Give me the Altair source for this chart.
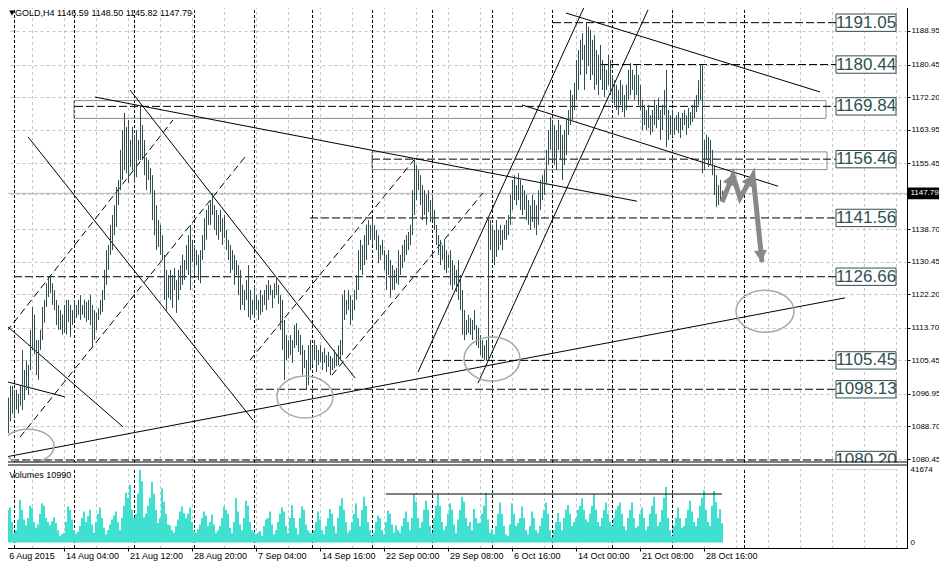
import altair as alt
import pandas as pd

# ---------------- data ----------------
highs = [
    1092, 1090, 1088, 1097, 1096, 1099, 1099, 1098, 1098, 1097,
    1099, 1108.1, 1103, 1105.5, 1104.3, 1113.2, 1119, 1117, 1110.6, 1110.6,
    1113.2, 1119, 1120.8, 1125, 1126.6, 1126.7, 1125, 1123.3, 1120.8, 1119.5,
    1118.2, 1117, 1119.5, 1120.8, 1120.8, 1119.5, 1118.2, 1120.8, 1119.5, 1120.8,
    1122, 1119.5, 1120.8, 1120.3, 1120.8, 1122, 1119.5, 1118.2, 1117.5, 1118.7,
    1120.8, 1123.3, 1128.4, 1133.4, 1134.7, 1139.8, 1142.3, 1144.8, 1149.4, 1151.2,
    1158.8, 1163.8, 1168.2, 1164.6, 1166.4, 1161.3, 1164.6, 1162.6, 1163.8, 1161.3,
    1169.9, 1165.1, 1161.3, 1156.9, 1156.2, 1154.2, 1152.4, 1148.6, 1144.8, 1141,
    1139.8, 1137.2, 1132.2, 1128.4, 1127.1, 1128.4, 1127.1, 1128.9, 1125.8, 1128.4,
    1129.6, 1132.2, 1130.9, 1134.7, 1137.2, 1139.8, 1136, 1134.7, 1133.4, 1132.2,
    1133.4, 1137.2, 1141.5, 1143.6, 1144.8, 1146.1, 1147.9, 1144.8, 1143.6, 1142.3,
    1143.6, 1141.5, 1142.3, 1138.5, 1136, 1134.7, 1133.4, 1132.2, 1130.9, 1129.6,
    1128.4, 1124.6, 1123.3, 1125.8, 1129.6, 1123.3, 1120.8, 1124.6, 1122, 1120.8,
    1123.3, 1122, 1123.3, 1124.6, 1125.8, 1124.6, 1123.3, 1125, 1126.3, 1124.6,
    1122, 1120.8, 1115.7, 1111.9, 1110.6, 1111.9, 1110.6, 1114.4, 1114.9, 1113.2,
    1111.9, 1109.3, 1108.1, 1105.5, 1109.3, 1110.6, 1108.8, 1110.6, 1109.3, 1108.1,
    1109.3, 1107.6, 1108.6, 1106.8, 1107.6, 1106.6, 1106, 1108.1, 1106.8, 1109.3,
    1110.6, 1122, 1123.3, 1120.8, 1123.3, 1122, 1120.8, 1123.3, 1127.1, 1133.4,
    1136, 1134.7, 1137.2, 1139.8, 1141, 1139.8, 1141.6, 1139.8, 1138.5, 1137.2,
    1134.7, 1136, 1133.4, 1132.2, 1133.4, 1130.9, 1129.6, 1128.4, 1128.9, 1133.4,
    1132.2, 1134.7, 1136, 1137.2, 1138, 1139.8, 1148.6, 1156.5, 1154.9, 1153.7,
    1152.4, 1149.9, 1148.6, 1147.4, 1148.6, 1146.1, 1147.4, 1143.6, 1139.8, 1137.2,
    1136, 1134.7, 1136, 1133.4, 1132.2, 1133.4, 1130.9, 1129.6, 1128.4, 1130.9,
    1127.1, 1123.3, 1118.2, 1115.7, 1117, 1116.2, 1115.7, 1118.2, 1114.4, 1113.7,
    1111.9, 1110.6, 1109.3, 1110.6, 1141.8, 1141, 1139.8, 1138.5, 1141, 1138.5,
    1139.8, 1138.5, 1139.8, 1141, 1142.3, 1147.4, 1151.2, 1152.4, 1149.9, 1152.9,
    1151.2, 1149.9, 1148.6, 1147.4, 1146.1, 1144.8, 1147.4, 1146.1, 1144.8, 1148.6,
    1151.2, 1152.4, 1153.7, 1158.8, 1163.8, 1167.1, 1166.4, 1165.1, 1163.8, 1166.4,
    1165.1, 1162.6, 1163.8, 1166.4, 1168.9, 1174, 1172.7, 1175.8, 1181.6, 1184.1,
    1186.7, 1188.4, 1185.4, 1191.05, 1190, 1189.2, 1186.7, 1187.9, 1184.1, 1182.9,
    1185.4, 1181.6, 1180.3, 1179.1, 1182.9, 1181.6, 1177.8, 1176.5, 1175.3, 1174,
    1176.5, 1175.3, 1172.7, 1175.3, 1179.1, 1180.8, 1179.1, 1177.8, 1180.3, 1177.8,
    1175.3, 1171.5, 1170.2, 1168.9, 1170.2, 1167.6, 1168.9, 1171.5, 1170.2, 1172,
    1168.9, 1170.2, 1174, 1179.1, 1168.9, 1167.6, 1168.9, 1166.9, 1167.6, 1168.4,
    1166.9, 1168.2, 1168.9, 1167.6, 1169.4, 1168.4, 1170.2, 1171.5, 1172.7, 1176.5,
    1180.44, 1180.2, 1161.3, 1162.6, 1162.1, 1161.3, 1158.8, 1155, 1152.4, 1149.9, 1151.2, 1148.5,
]
lows = [
    1085, 1083, 1080.2, 1081, 1087, 1090, 1092, 1091, 1093, 1092,
    1094, 1092.9, 1095.4, 1097.9, 1096.7, 1103, 1108.1, 1107, 1101.7, 1100.5,
    1108.1, 1110.6, 1115, 1119, 1121.5, 1122.5, 1119.5, 1118.2, 1114.4, 1113.2,
    1113.2, 1112, 1112.4, 1112, 1115.2, 1111.4, 1114.4, 1115.7, 1116.2, 1117,
    1115.7, 1117, 1116.2, 1115.2, 1115.7, 1114.4, 1108.8, 1110.6, 1113.2, 1115.7,
    1117, 1117.7, 1120.8, 1124.6, 1128.4, 1132.2, 1133.4, 1137.2, 1139.3, 1144.8,
    1148.6, 1151.2, 1153.7, 1152.9, 1150.4, 1154.5, 1153.7, 1150.4, 1151.9, 1156.2,
    1156.2, 1156.2, 1152.4, 1148.6, 1151.2, 1147.9, 1141, 1137.2, 1133.4, 1134.2,
    1132.2, 1130.9, 1120.8, 1118.2, 1121.3, 1120.8, 1118.7, 1123.3, 1117.5, 1120.8,
    1123.3, 1124.6, 1125.8, 1128.4, 1127.1, 1123.3, 1130.4, 1127.1, 1129.6, 1125.8,
    1125, 1130.9, 1133.4, 1136, 1139.8, 1139.8, 1142.3, 1138.5, 1137.2, 1136,
    1138, 1134.7, 1136.5, 1133.4, 1130.9, 1127.6, 1128.4, 1124.6, 1127.1, 1122,
    1118.2, 1119.5, 1118.2, 1120.8, 1116.4, 1115.7, 1117, 1116.2, 1118.2, 1115.7,
    1117, 1117.7, 1119.5, 1118.2, 1120.8, 1122, 1118.7, 1121.2, 1122, 1119.8,
    1113.2, 1108.1, 1100.5, 1105.5, 1106, 1106.8, 1104.8, 1108.6, 1109.3, 1107.6,
    1106.8, 1101.7, 1103.5, 1098.13, 1099.2, 1103, 1104.3, 1105.5, 1102.5, 1104.3,
    1105, 1103, 1104.8, 1102.5, 1103.8, 1101.7, 1103, 1103.5, 1104, 1104.3,
    1105.5, 1106.8, 1115.7, 1117, 1118.2, 1114.4, 1115.7, 1118.2, 1120.8, 1123.3,
    1128.4, 1127.1, 1129.6, 1130.9, 1134.7, 1136, 1134.7, 1136, 1133.4, 1130.1,
    1130.9, 1132.2, 1128.4, 1123.3, 1127.1, 1121.3, 1123.3, 1123.3, 1125, 1124.6,
    1127.1, 1128.9, 1130.4, 1132.2, 1133.4, 1134.7, 1137.2, 1142.3, 1146.1, 1148.6,
    1144.8, 1141, 1142.3, 1139.8, 1143.1, 1140.5, 1141, 1138.5, 1134.7, 1132.2,
    1129.6, 1130.9, 1128.4, 1127.6, 1128.9, 1124.6, 1123.3, 1124.6, 1122.8, 1120.8,
    1118.2, 1111.9, 1110.6, 1111.9, 1112.4, 1111.9, 1110.6, 1113.2, 1109.3, 1108.6,
    1106.8, 1106, 1105.6, 1105.45, 1106, 1133.4, 1130.9, 1129.6, 1131.7, 1133.4,
    1134.7, 1133.4, 1136, 1136, 1137.2, 1139.8, 1143.6, 1146.1, 1144.8, 1146.1,
    1143.6, 1142.3, 1143.6, 1141, 1139.8, 1138.5, 1140.5, 1139, 1137.2, 1139.8,
    1143.6, 1146.1, 1147.4, 1149.9, 1155, 1158.8, 1156.2, 1155, 1153.7, 1158.8,
    1156.2, 1151.2, 1155, 1157.5, 1162.6, 1165.1, 1166.4, 1168.9, 1171.5, 1174,
    1177.8, 1181.6, 1174, 1178, 1180, 1176.5, 1177.8, 1174, 1175.3, 1172.7,
    1176.5, 1174, 1172.2, 1174, 1175.3, 1172.7, 1171.5, 1170.2, 1168.9, 1167.6,
    1170.2, 1168.4, 1167.1, 1168.9, 1171.5, 1172.7, 1174, 1171.5, 1172.7, 1170.2,
    1168.9, 1163.8, 1165.1, 1163.8, 1164.3, 1162.6, 1163.3, 1165.1, 1164.3, 1166.4,
    1161.3, 1163.8, 1167.6, 1159.5, 1161.3, 1162.6, 1162.1, 1162.6, 1163.8, 1163.1,
    1161.8, 1163.8, 1165.1, 1162.6, 1164.3, 1165.1, 1165.9, 1166.9, 1168.4, 1170.2,
    1171.5, 1152.9, 1153.7, 1156.2, 1154.5, 1155, 1152.4, 1147.4, 1144.3, 1144.8, 1146.1, 1145.82,
]
volumes = [
    9400, 14000, 16400, 22900, 18700, 20100, 11700, 5100, 7000, 13100,
    24300, 18700, 13100, 9800, 14000, 21100, 19700, 11700, 8400, 10300,
    16400, 22500, 21100, 14000, 11700, 9800, 12200, 14500, 11200, 7000,
    3700, 4700, 5600, 11700, 20600, 18700, 13100, 7000, 5100, 6100,
    9400, 14000, 17800, 11700, 15000, 18700, 10300, 5600, 11700, 16400,
    20100, 14000, 8400, 4700, 7000, 10300, 13100, 15400, 17800, 11700,
    7000, 14000, 21100, 28500, 25700, 33200, 18700, 14000, 16400, 28100,
    41674, 35100, 14500, 16400, 21100, 25700, 34600, 28100, 18700, 11200,
    14000, 30900, 23400, 16400, 10300, 9800, 7000, 5600, 9400, 13100,
    17800, 20600, 16800, 14000, 16400, 20100, 11700, 6600, 5600, 7500,
    10300, 14000, 17800, 15400, 9400, 11700, 15900, 10300, 5600, 7000,
    9400, 14000, 20600, 18700, 16400, 8400, 5600, 11700, 25300, 17800,
    10300, 7000, 14000, 23900, 21100, 11700, 7000, 6100, 4700, 5600,
    6600, 3700, 9400, 13100, 14000, 17800, 10300, 4700, 7000, 11700,
    16400, 20100, 17800, 9400, 5600, 14000, 21500, 14000, 8400, 4700,
    14000, 20600, 18700, 10300, 7000, 5600, 5100, 7000, 11700, 17800,
    13100, 7000, 4700, 9400, 14000, 19200, 16400, 9400, 5600, 14000,
    21100, 25300, 18700, 11700, 5600, 7000, 11700, 16400, 22500, 14000,
    9400, 18700, 26200, 21100, 11700, 7000, 3700, 5600, 11700, 15400,
    14000, 7000, 4700, 11700, 18300, 16400, 10300, 5600, 9800, 7000,
    5600, 9400, 14000, 17800, 11700, 7000, 14000, 27600, 23400, 14000,
    8400, 11700, 18700, 23900, 18700, 9400, 5600, 14000, 21100, 27600,
    21100, 11700, 7000, 9400, 16400, 22500, 18700, 10300, 5600, 13100,
    18700, 26200, 23400, 14000, 9400, 11700, 7000, 19200, 14000, 11200,
    11200, 16400, 21100, 28500, 13100, 5600, 7500, 4700, 9400, 16400,
    22900, 16400, 9400, 4700, 3700, 10300, 22500, 16400, 9400, 11200,
    14000, 20600, 14000, 7000, 4700, 9400, 17800, 14000, 7000, 5600,
    9400, 14000, 18700, 22900, 16400, 7000, 2800, 7000, 11700, 16800,
    11700, 7000, 14000, 18700, 21500, 16400, 9400, 11700, 14000, 18700,
    21100, 25300, 18700, 13100, 11700, 16400, 21100, 27600, 18700, 11700,
    9400, 14000, 18700, 22900, 16400, 11700, 9400, 14000, 18700, 21100,
    22900, 16400, 9400, 7000, 14000, 18700, 22900, 14000, 8400, 9400,
    16400, 20100, 14000, 7000, 9400, 16400, 21100, 26200, 16400, 9400,
    11700, 18700, 25700, 31800, 14000, 7000, 3700, 9400, 14000, 20100,
    14000, 8400, 9400, 14000, 18700, 23900, 17800, 11700, 9400, 14000,
    21100, 25700, 30000, 18700, 11700, 9400, 21100, 29500, 23400, 14000, 19200, 10990,
]

date_ticks = [0, 32, 64, 96, 128, 160, 192, 224, 256, 288, 320, 352]
date_labels = ["6 Aug 2015", "14 Aug 04:00", "21 Aug 12:00", "28 Aug 20:00",
               "7 Sep 04:00", "14 Sep 16:00", "22 Sep 00:00", "29 Sep 08:00",
               "6 Oct 16:00", "14 Oct 00:00", "21 Oct 08:00", "28 Oct 16:00"]
price_ticks = [1188.95, 1180.45, 1172.20, 1163.95, 1155.45, 1147.70, 1138.70,
               1130.45, 1122.20, 1113.70, 1105.45, 1096.95, 1088.70, 1080.45]
volume_ticks = [0, 41674]
grid_cols = [0, 16, 32, 48, 64, 80, 96, 112, 128, 144, 160, 176, 192, 208, 224,
             240, 256, 272, 288, 304, 320, 336, 352, 368, 384, 400, 416, 432, 448]
week_seps = [7, 37, 67, 97, 127, 156, 186, 216, 246, 276, 306, 336, 372]

level_values = [1191.05, 1180.44, 1169.84, 1156.46, 1141.56, 1126.66, 1105.45, 1098.13, 1080.20]
level_labels = ["1191.05", "1180.44", "1169.84", "1156.46", "1141.56",
                "1126.66", "1105.45", "1098.13", "1080.20"]
level_starts = [276.5, 300, 37.5, 186, 155, 7, 216, 127.5, 0]

zone_start = [37, 186]
zone_end = [413, 413.5]
zone_low = [1166.8, 1153.8]
zone_high = [1171.3, 1158.3]

solid_i1 = [0, 47.5, 261, 283, 209, 239, 14, 65, 0, 0]
solid_p1 = [1080.7, 1172.2, 1170.2, 1193.5, 1102.5, 1099.7, 1162.1, 1174.0, 1115.7, 1100.5]
solid_i2 = [422.5, 318.5, 389, 410, 292.5, 324, 126.5, 177.5, 61.5, 32.5]
solid_p2 = [1121.3, 1145.8, 1149.6, 1173.5, 1195.5, 1194.3, 1090.3, 1101.0, 1088.6, 1096.2]

dash_i1 = [0, 10, 125, 166]
dash_p1 = [1110.6, 1086.0, 1105.5, 1101.7]
dash_i2 = [86.5, 122.5, 209, 241.5]
dash_p2 = [1166.4, 1157.0, 1157.5, 1147.9]

ellipse_i = [14, 152.5, 246, 382.5]
ellipse_p = [1083.7, 1096.2, 1105.8, 1117.9]

arrow_i = [361, 366.5, 370, 376.5, 381]
arrow_p = [1145.6, 1152.4, 1146.6, 1152.4, 1130.4]
head_i = [365.5, 375, 380.5]
head_p = [1151.4, 1151.2, 1131.9]
head_angle = [22, 29, 174]

last_price = 1147.79
title_text = "GOLD,H4  1146.59 1148.50 1145.82 1147.79"
volume_text = "Volumes 10990"
vol_line_value = 27767

# ---------------- frames ----------------
n = len(highs)
bars = pd.DataFrame({"i": list(range(n)), "high": highs, "low": lows, "vol": volumes})
grid_df = pd.DataFrame({"g": grid_cols})
sep_df = pd.DataFrame({"s": week_seps})
dates_df = pd.DataFrame({"t": date_ticks, "lab": date_labels})
levels_df = pd.DataFrame({"v": level_values, "s": level_starts, "lab": level_labels})
zones_df = pd.DataFrame({"a": zone_start, "b": zone_end, "lo": zone_low, "hi": zone_high})
solid_df = pd.DataFrame({"i1": solid_i1, "p1": solid_p1, "i2": solid_i2, "p2": solid_p2})
dash_df = pd.DataFrame({"i1": dash_i1, "p1": dash_p1, "i2": dash_i2, "p2": dash_p2})
arrow_df = pd.DataFrame({"i": arrow_i, "p": arrow_p, "o": list(range(len(arrow_i)))})
head_df = pd.DataFrame({"i": head_i, "p": head_p, "a": head_angle})
cur_df = pd.DataFrame({"p": [last_price], "lab": [f"{last_price:.2f}"]})
title_df = pd.DataFrame({"t": [title_text], "m": ["\u25BC"]})
vtext_df = pd.DataFrame({"t": [volume_text]})
one = pd.DataFrame({"k": [0]})

FONT = "Liberation Sans"
SLATE = "#2F4F4F"
GRID = "#C6C6C6"

# one plot area (0..907 x 0..548) holding both panels; price panel = top 462 px,
# volume panel = 465..548
xs = alt.Scale(domain=[0, 453.5], nice=False, zero=False)
ps = alt.Scale(domain=[1057.90, 1196.8], nice=False, zero=False)
vs = alt.Scale(domain=[-3214, 311349], nice=False, zero=False)

ax_x = alt.Axis(values=date_ticks, labels=False, tickSize=3, tickColor="black",
                domainColor="black", grid=False, title=None)
ax_price = alt.Axis(orient="right", values=price_ticks, format=".2f", grid=True, gridColor=GRID,
                    gridDash=[3, 3], tickColor="black", tickSize=3, labelFont=FONT, labelFontSize=8,
                    labelColor="black", labelPadding=1, domainColor="black", title=None,
                    labelOverlap=False, labelFlush=False, labelBound=False)
ax_vol = alt.Axis(orient="right", values=volume_ticks, format="d", grid=False, ticks=False,
                  domainColor="black", title=None, labelFont=FONT, labelFontSize=8,
                  labelColor="black", labelPadding=3, labelOverlap=False, labelFlush=False,
                  labelBound=False)


def X(f=None, d=None):
    if f is not None:
        return alt.X(f, type="quantitative", scale=xs, axis=ax_x)
    return alt.X(datum=d, type="quantitative", scale=xs, axis=ax_x)


def PY(f=None, d=None):
    if f is not None:
        return alt.Y(f, type="quantitative", scale=ps, axis=ax_price)
    return alt.Y(datum=d, type="quantitative", scale=ps, axis=ax_price)


def VY(f=None, d=None):
    if f is not None:
        return alt.Y(f, type="quantitative", scale=vs, axis=ax_vol)
    return alt.Y(datum=d, type="quantitative", scale=vs, axis=ax_vol)


# ---------------- price panel ----------------
p_grid = alt.Chart(grid_df).mark_rule(color=GRID, strokeDash=[3, 3], xOffset=0.5).encode(x=X("g"))
p_sep = alt.Chart(sep_df).mark_rule(color="black", strokeDash=[3, 2], xOffset=0.5).encode(x=X("s"))
p_cur = alt.Chart(cur_df).mark_rule(color="#B8B8B8").encode(y=PY("p"))
p_zones = alt.Chart(zones_df).mark_rect(fillOpacity=0, stroke="#8C8C8C", strokeWidth=1).encode(
    x=X("a"), x2=alt.X2("b"), y=PY("lo"), y2=alt.Y2("hi"))
p_levels = alt.Chart(levels_df).mark_rule(color="black", strokeDash=[8, 3]).encode(
    x=X("s"), x2=alt.X2(datum=418), y=PY("v"))
p_solid = alt.Chart(solid_df).mark_rule(color="black", strokeWidth=1).encode(
    x=X("i1"), y=PY("p1"), x2=alt.X2("i2"), y2=alt.Y2("p2"))
p_dash = alt.Chart(dash_df).mark_rule(color="black", strokeWidth=1, strokeDash=[7, 4]).encode(
    x=X("i1"), y=PY("p1"), x2=alt.X2("i2"), y2=alt.Y2("p2"))
p_bars = alt.Chart(bars).mark_rule(color=SLATE, strokeWidth=1, xOffset=0.5).encode(
    x=X("i"), y=PY("low"), y2=alt.Y2("high"))

ellipse_layers = []
for (ei, ep, rx, ry) in zip(ellipse_i, ellipse_p, [26, 28, 28, 29], [17, 21, 22, 21]):
    a = ry / rx
    path = f"M-1,0A1,{a:.3f},0,1,0,1,0A1,{a:.3f},0,1,0,-1,0Z"
    ellipse_layers.append(
        alt.Chart(pd.DataFrame({"i": [ei], "p": [ep]})).mark_point(
            shape=path, size=(2 * rx) ** 2, filled=False, stroke="#A8A8A8",
            strokeWidth=1.5, opacity=1, clip=True).encode(x=X("i"), y=PY("p")))

p_arrow = alt.Chart(arrow_df).mark_line(color="#888888", strokeWidth=5, strokeJoin="miter").encode(
    x=X("i"), y=PY("p"), order=alt.Order("o:Q"))
p_heads = alt.Chart(head_df).mark_point(shape="triangle-up", filled=True, color="#888888",
                                         size=170, opacity=1).encode(
    x=X("i"), y=PY("p"), angle=alt.Angle("a:Q", scale=None))

p_boxes = alt.Chart(levels_df).transform_calculate(
    top="datum.v + 2.2", bot="datum.v - 2.2").mark_rect(
    fill="white", stroke=SLATE, strokeWidth=1, clip=True).encode(
    x=X(d=418), x2=alt.X2(datum=448), y=PY("top"), y2=alt.Y2("bot"))
p_boxtext = alt.Chart(levels_df).mark_text(
    font=FONT, fontSize=17, color=SLATE, align="center", baseline="middle", clip=True).encode(
    x=X(d=433), y=PY("v"), text="lab:N")

p_tag = alt.Chart(cur_df).transform_calculate(
    top="datum.p + 1.5", bot="datum.p - 1.5").mark_rect(fill="black").encode(
    x=X(d=453.6), x2=alt.X2(datum=474), y=PY("top"), y2=alt.Y2("bot"))
p_tagtext = alt.Chart(cur_df).mark_text(
    font=FONT, fontSize=8, color="white", align="left", baseline="middle").encode(
    x=X(d=455.2), y=PY("p"), text="lab:N")

p_mark = alt.Chart(title_df).mark_text(
    font="DejaVu Sans", fontSize=7, color="black", align="left", baseline="middle").encode(
    x=X(d=4.6), y=PY(d=1193.5), text="m:N")
p_title = alt.Chart(title_df).mark_text(
    font=FONT, fontSize=9, color="black", align="left", baseline="middle").encode(
    x=X(d=7.5), y=PY(d=1193.5), text="t:N")

# white gap between the two panels
p_band = alt.Chart(one).mark_rect(fill="white").encode(
    x=X(d=0), x2=alt.X2(datum=453.5), y=PY(d=1079.57), y2=alt.Y2(datum=1077.92))
p_bottom = alt.Chart(one).mark_rule(color="black").encode(
    x=X(d=0), x2=alt.X2(datum=453.5), y=PY(d=1079.7))

price = alt.layer(
    p_grid, p_sep, p_cur, p_zones, p_levels, p_solid, p_dash, p_bars,
    *ellipse_layers, p_arrow, p_heads, p_boxes, p_boxtext, p_tag, p_tagtext,
    p_mark, p_title, p_band, p_bottom
)

# ---------------- volume panel ----------------
v_bars = alt.Chart(bars).transform_calculate(
    xa="datum.i - 0.5", xb="datum.i + 0.5").mark_rect(color="#40E0D0").encode(
    x=X("xa"), x2=alt.X2("xb"), y=VY("vol"), y2=alt.Y2(datum=0))
v_line = alt.Chart(one).mark_rule(color="black", strokeWidth=1).encode(
    x=X(d=193), x2=alt.X2(datum=361), y=VY(d=vol_line_value))
v_top = alt.Chart(one).mark_rule(color="black", strokeWidth=1).encode(
    x=X(d=0), x2=alt.X2(datum=453.5), y=VY(d=44429))
v_text = alt.Chart(vtext_df).mark_text(
    font=FONT, fontSize=9, color="black", align="left", baseline="middle").encode(
    x=X(d=4.6), y=VY(d=38700), text="t:N")
# time labels under the volume panel (the first one kept inside the visible page)
v_dates = alt.Chart(dates_df).transform_calculate(
    lx="max(datum.t + 1, 4.6)").mark_text(
    font=FONT, fontSize=9, color="black", align="left", baseline="top").encode(
    x=X("lx"), y=VY(d=-5300), text="lab:N")

volume = alt.layer(v_bars, v_line, v_top, v_text, v_dates)

chart = alt.layer(price, volume).resolve_scale(y="independent").properties(
    width=907, height=548,
    autosize=alt.AutoSizeParams(type="none"),
    padding={"left": -8, "top": -8, "right": 32, "bottom": 14},
    background="white",
).configure_view(stroke="transparent")

chart.save("out.html", embed_options={"renderer": "svg", "actions": False})
